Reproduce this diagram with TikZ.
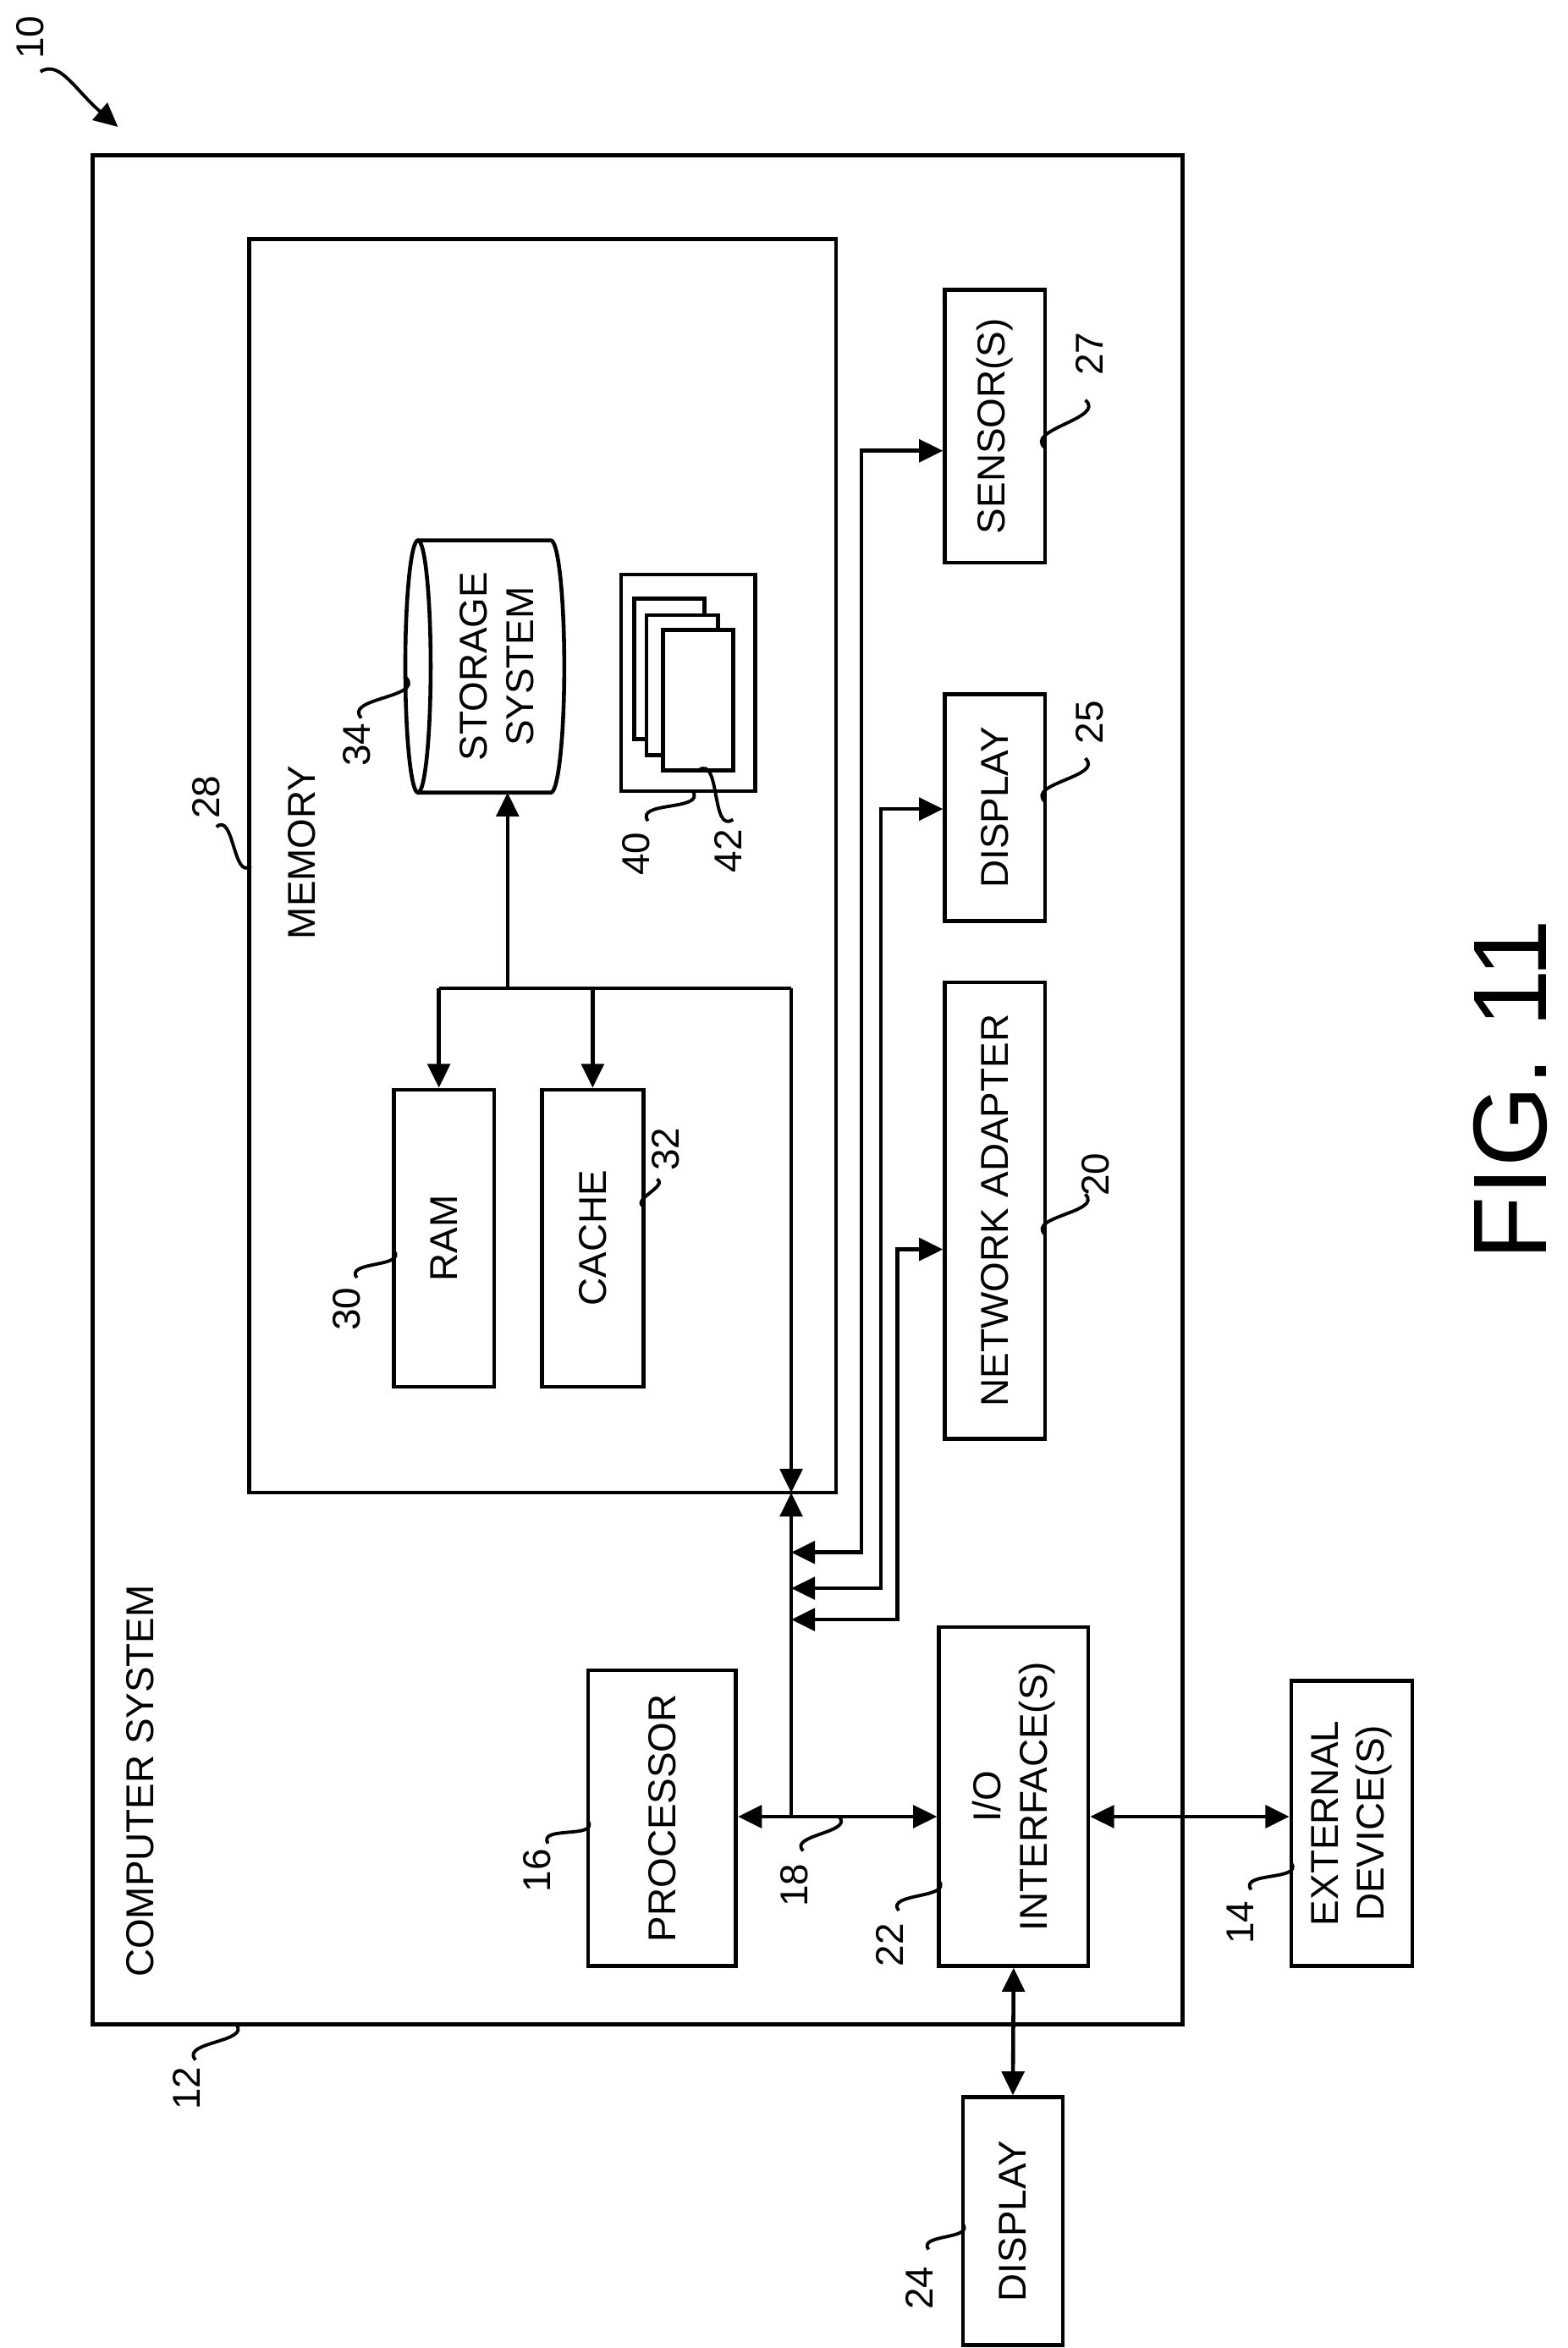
\documentclass[tikz,border=0pt]{standalone}
\usepackage{fontspec}
\setmainfont{Liberation Sans}
\usetikzlibrary{arrows.meta,calc}
\begin{document}
\begin{tikzpicture}[x=1pt,y=-1pt,line width=2.6pt,
  box/.style={draw,rectangle,inner sep=0pt},
  txt/.style={rotate=90,font=\fontsize{26}{31}\selectfont,align=center,inner sep=0pt},
  num/.style={rotate=90,font=\fontsize{26}{31}\selectfont,inner sep=0pt},
  tip/.style={-{Triangle[length=16pt,width=15pt]}},
  dtip/.style={{Triangle[length=16pt,width=15pt]}-{Triangle[length=16pt,width=15pt]}},
  lead/.style={line width=2.2pt}]
\useasboundingbox (0,0) rectangle (1050,1573);
\newcommand{\lead}[2]{\draw[lead] (#1) .. controls ($(#1)!0.45!90:(#2)$) and ($(#2)!0.45!90:(#1)$) .. (#2);}
% boxes
\node[box,minimum width=730pt,minimum height=1252pt] (cs) at (427,730) {};
\node[box,minimum width=393pt,minimum height=840pt] (mem) at (363.5,580) {};
\node[box,minimum width=67pt,minimum height=199pt] (ram) at (297.5,829.5) {};
\node[box,minimum width=68pt,minimum height=199pt] (cache) at (397,829.5) {};
\node[box,minimum width=99pt,minimum height=198pt] (cpu) at (443.5,1218) {};
\node[box,minimum width=100pt,minimum height=227pt] (io) at (679,1203.5) {};
\node[box,minimum width=81pt,minimum height=191pt] (ext) at (905.5,1221.5) {};
\node[box,minimum width=67pt,minimum height=166pt] (disp24) at (678.5,1488) {};
\node[box,minimum width=67pt,minimum height=183pt] (sens) at (666.5,285.5) {};
\node[box,minimum width=67pt,minimum height=152pt] (disp25) at (666.5,541) {};
\node[box,minimum width=67pt,minimum height=306pt] (net) at (666.5,811) {};
% texts
\node[txt,anchor=west] at (94,1326) {COMPUTER SYSTEM};
\node[txt] at (202,571) {MEMORY};
\node[txt] at (ram) {RAM};
\node[txt] at (cache) {CACHE};
\node[txt] at (cpu) {PROCESSOR};
\node[txt] at (io) {I/O\\INTERFACE(S)};
\node[txt] at (ext) {EXTERNAL\\DEVICE(S)};
\node[txt] at (disp24) {DISPLAY};
\node[txt] at (sens) {SENSOR(S)};
\node[txt] at (disp25) {DISPLAY};
\node[txt] at (net) {NETWORK ADAPTER};
\node[rotate=90,font=\fontsize{70}{80}\selectfont,inner sep=0pt] (fig) at (1012,730) {FIG. 11};
% storage cylinder
\draw (280,531) -- (369,531) arc[start angle=90,end angle=-90,x radius=9,y radius=84.5] -- (280,362);
\draw (280,446.5) ellipse [x radius=8.5,y radius=84.5];
\node[txt] (stor) at (333,446.5) {STORAGE\\SYSTEM};
\coordinate (cylb) at (340,531);
% program modules stack
\node[box,minimum width=90pt,minimum height=145pt] (mods) at (461,457.5) {};
\draw[fill=white] (425,401) rectangle (472,495);
\draw[fill=white] (433,412) rectangle (481,506);
\draw[fill=white] (444,422) rectangle (491,516);
% memory internal bus
\coordinate (j1) at (294,662);
\coordinate (j2) at (340,662);
\coordinate (j3) at (397,662);
\coordinate (j4) at (530,662);
\coordinate (mb) at (530,1000);
\draw (j1) -- (j4);
\draw[tip] (j1) -- (ram.north -| j1);
\draw[tip] (j3) -- (cache.north);
\draw[tip] (j2) -- (cylb);
\draw[tip] (j4) -- (mb);
% main bus
\coordinate (b0) at (530,1217);
\draw[tip] (b0) -- (mb);
\draw[dtip] (cpu.east |- b0) -- (io.west |- b0);
\coordinate (s1) at (530,1040);
\coordinate (s2) at (530,1064);
\coordinate (s3) at (530,1085);
\draw[dtip] (s1) -- (577,1040) -- (577,302) -- (sens.west |- 0,302);
\draw[dtip] (s2) -- (590,1064) -- (590,542) -- (disp25.west |- 0,542);
\draw[dtip] (s3) -- (601,1085) -- (601,837) -- (net.west |- 0,837);
\draw[dtip] (io.east |- b0) -- (ext.west |- b0);
\draw[dtip] (io.south) -- (disp24.north);
% reference numerals
\node[num] (n10) at (20,25) {10};
\draw[lead,-{Triangle[length=16pt,width=15pt]}] (27,48) .. controls (40,40) and (50,60) .. (79,85);
\node[num] (n12) at (125,1399) {12}; \lead{131,1380}{158,1356}
\node[num] (n28) at (138,534) {28}; \lead{145,554}{168,580}
\node[num] (n34) at (239,499) {34}; \lead{242,481}{272,454}
\node[num] (n40) at (426,572) {40}; \lead{434,550}{464,530}
\node[num] (n42) at (488,570) {42}; \lead{491,549}{468,516}
\node[num] (n27) at (730,237) {27}; \lead{727,268}{700,300}
\node[num] (n25) at (730,484) {25}; \lead{727,508}{700,537}
\node[num] (n20) at (734,787) {20}; \lead{727,800}{700,827}
\node[num] (n30) at (232,877) {30}; \lead{239,856}{264,838}
\node[num] (n32) at (446,770) {32}; \lead{440,790}{431,808}
\node[num] (n16) at (360,1253) {16}; \lead{367,1235}{394,1220}
\node[num] (n18) at (532,1263) {18}; \lead{538,1240}{562,1217}
\node[num] (n22) at (596,1303) {22}; \lead{602,1280}{629,1260}
\node[num] (n14) at (831,1288) {14}; \lead{838,1266}{865,1248}
\node[num] (n24) at (616,1533) {24}; \lead{622,1507}{645,1490}
\end{tikzpicture}
\end{document}
